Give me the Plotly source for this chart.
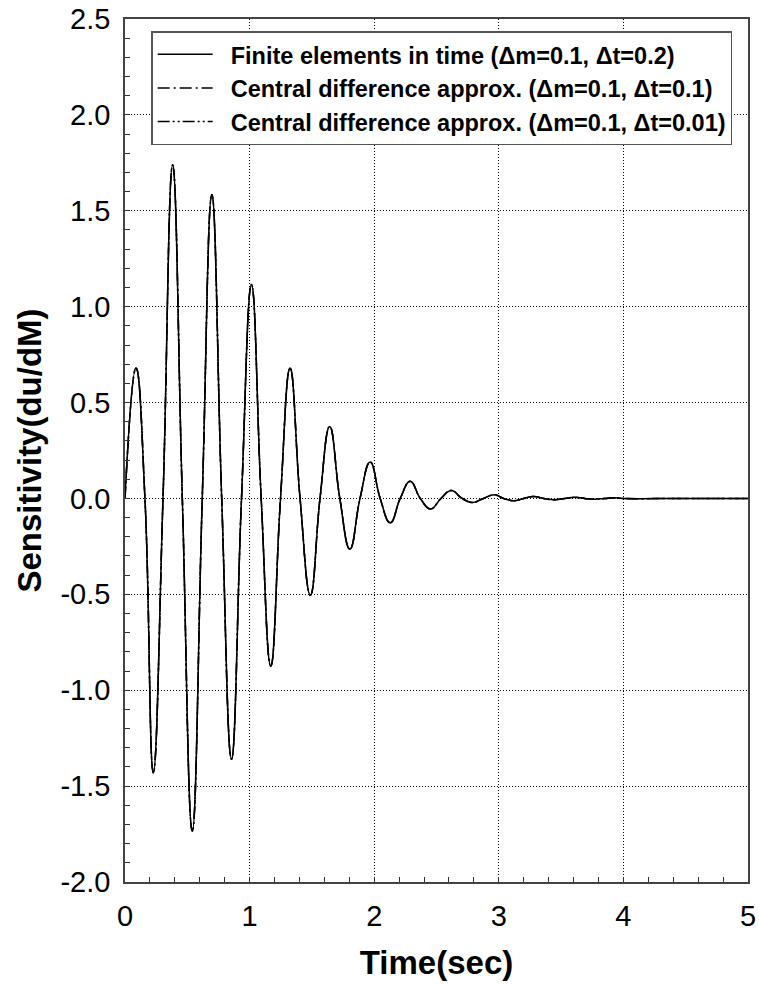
import plotly.graph_objects as go

# Time (sec) of extrema and zero crossings
time_s = [0, 0.088, 0.16, 0.227, 0.305, 0.382, 0.46, 0.54, 0.62, 0.697, 0.776,
          0.855, 0.935, 1.015, 1.093, 1.17, 1.248, 1.325, 1.405, 1.488, 1.565,
          1.643, 1.724, 1.805, 1.886, 1.968, 2.048, 2.129, 2.209, 2.289, 2.37,
          2.452, 2.536, 2.62, 2.705, 2.79, 2.877, 2.965, 3.04, 3.12, 3.2, 3.28,
          3.36, 3.45, 3.53, 3.61, 3.69, 3.77, 3.85, 3.93, 4.0, 4.5, 5.0]

# Sensitivity du/dM (the three series coincide visually)
fem_dt02 = [0, 0.68, 0, -1.43, 0, 1.74, 0, -1.735, 0, 1.585, 0, -1.36, 0,
            1.115, 0, -0.875, 0, 0.68, 0, -0.505, 0, 0.375, 0, -0.265, 0,
            0.19, 0, -0.127, 0, 0.09, 0, -0.055, 0, 0.042, 0, -0.021, 0,
            0.019, 0, -0.012, 0, 0.01, 0, -0.007, 0, 0.006, 0, -0.004, 0,
            0.003, 0, 0, 0]
cd_dt01 = list(fem_dt02)
cd_dt001 = list(fem_dt02)

series_names = [
    "Finite elements in time (\u0394m=0.1, \u0394t=0.2)",
    "Central difference approx. (\u0394m=0.1, \u0394t=0.1)",
    "Central difference approx. (\u0394m=0.1, \u0394t=0.01)",
]

x_ticks = [0, 1, 2, 3, 4, 5]
x_tick_labels = ["0", "1", "2", "3", "4", "5"]
y_ticks = [-2.0, -1.5, -1.0, -0.5, 0.0, 0.5, 1.0, 1.5, 2.0, 2.5]
y_tick_labels = ["-2.0", "-1.5", "-1.0", "-0.5", "0.0", "0.5", "1.0", "1.5", "2.0", "2.5"]

FONT = "Liberation Sans, Arial, Helvetica, sans-serif"
dashes = ["solid", "12px,4px,2px,4px", "12px,3px,2px,3px,2px,3px"]

fig = go.Figure()
for name, vals, dash in zip(series_names, [fem_dt02, cd_dt01, cd_dt001], dashes):
    fig.add_trace(go.Scatter(
        x=time_s, y=vals, mode="lines", name="\u00a0\u00a0" + name,
        line=dict(color="black", width=1.5, dash=dash, shape="spline", smoothing=1.3),
    ))

axis_common = dict(
    ticks="inside", ticklen=5, tickwidth=1, tickcolor="#333",
    showline=True, linecolor="#444", linewidth=1.5, mirror=True,
    showgrid=True, gridcolor="black", gridwidth=1, griddash="1px,2px",
    zeroline=False, automargin=False, ticklabelstandoff=7,
    tickfont=dict(family=FONT, size=29, color="black"),
)

fig.update_layout(
    width=759, height=984,
    margin=dict(l=125, r=11, t=19, b=102),
    paper_bgcolor="white", plot_bgcolor="white",
    font=dict(family=FONT, color="black"),
    xaxis=dict(
        range=[0, 5], tickvals=x_ticks, ticktext=x_tick_labels,
        minor=dict(dtick=0.2, tick0=0, ticks="inside", ticklen=5, tickcolor="#333", showgrid=False),
        title=dict(text="<b>Time(sec)</b>", font=dict(family=FONT, size=33, color="black"), standoff=20),
        **axis_common,
    ),
    yaxis=dict(
        range=[-2, 2.5], tickvals=y_ticks, ticktext=y_tick_labels,
        minor=dict(dtick=0.1, tick0=0, ticks="inside", ticklen=5, tickcolor="#333", showgrid=False),
        title=dict(text="<b>Sensitivity(du/dM)</b>", font=dict(family=FONT, size=33, color="black"), standoff=9),
        **axis_common,
    ),
    legend=dict(
        x=0.042, y=0.986, xanchor="left", yanchor="top",
        bgcolor="white", bordercolor="#555", borderwidth=1.5,
        font=dict(family=FONT, size=23.5, color="black", weight="bold"),
        itemwidth=55, tracegroupgap=0,
    ),
    showlegend=True,
)

fig.write_html("out.html")
